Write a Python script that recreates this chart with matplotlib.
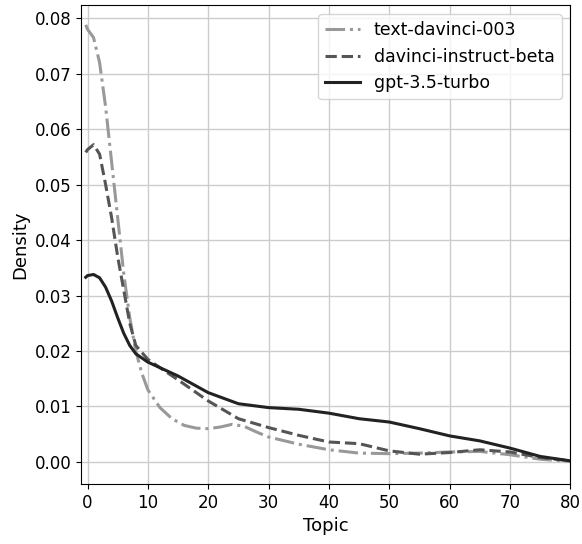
import numpy as np
import matplotlib
matplotlib.use("Agg")
import matplotlib.pyplot as plt

# values
x_t003 = [-0.3, 0, 1, 2, 3, 4, 5, 6, 7, 8, 9, 10, 12, 14, 16, 18, 20, 22, 24, 26, 28, 30, 35, 40, 45, 50, 55, 60, 65, 70, 75, 80]
y_t003 = [0.0788, 0.078, 0.0765, 0.072, 0.064, 0.054, 0.044, 0.034, 0.026, 0.020, 0.016, 0.013, 0.0098, 0.0078, 0.0066, 0.0061, 0.006, 0.0063, 0.0068, 0.0064, 0.0054, 0.0045, 0.0032, 0.0022, 0.0016, 0.0015, 0.0016, 0.0018, 0.0019, 0.0013, 0.0005, 0.0001]

x_dib = [-0.3, 0, 1, 2, 3, 4, 5, 6, 7, 8, 10, 12, 15, 20, 25, 30, 35, 40, 45, 50, 55, 60, 65, 70, 75, 80]
y_dib = [0.0558, 0.0563, 0.0572, 0.0555, 0.050, 0.044, 0.037, 0.031, 0.025, 0.021, 0.0185, 0.017, 0.0148, 0.011, 0.0078, 0.0062, 0.0048, 0.0036, 0.0033, 0.002, 0.0014, 0.0017, 0.0022, 0.0018, 0.0008, 0.0002]

x_gpt = [-0.3, 0, 1, 2, 3, 4, 5, 6, 7, 8, 10, 15, 20, 25, 30, 35, 40, 45, 50, 55, 60, 65, 70, 75, 80]
y_gpt = [0.0333, 0.0336, 0.0338, 0.0332, 0.0315, 0.029, 0.026, 0.0232, 0.021, 0.0195, 0.018, 0.0155, 0.0125, 0.0105, 0.0098, 0.0095, 0.0088, 0.0078, 0.0072, 0.006, 0.0047, 0.0038, 0.0025, 0.001, 0.0002]

fig, ax = plt.subplots(figsize=(5.82, 5.44), dpi=100)
ax.plot(x_t003, y_t003, color="#999999", ls="-.", lw=2.2, label="text-davinci-003")
ax.plot(x_dib, y_dib, color="#555555", ls="--", lw=2.2, label="davinci-instruct-beta")
ax.plot(x_gpt, y_gpt, color="#222222", ls="-", lw=2.2, label="gpt-3.5-turbo")
ax.set_xlim(-1, 80)
ax.set_ylim(-0.004, 0.0823)
ax.set_xticks(range(0, 81, 10))
ax.set_xlabel("Topic", fontsize=13)
ax.set_ylabel("Density", fontsize=13)
ax.tick_params(labelsize=12)
ax.grid(color="#cccccc", lw=1)
ax.legend(loc="upper right", fontsize=12.5)
fig.subplots_adjust(left=0.14, right=0.98, bottom=0.11, top=0.99)
fig.savefig("out.png", dpi=100)
